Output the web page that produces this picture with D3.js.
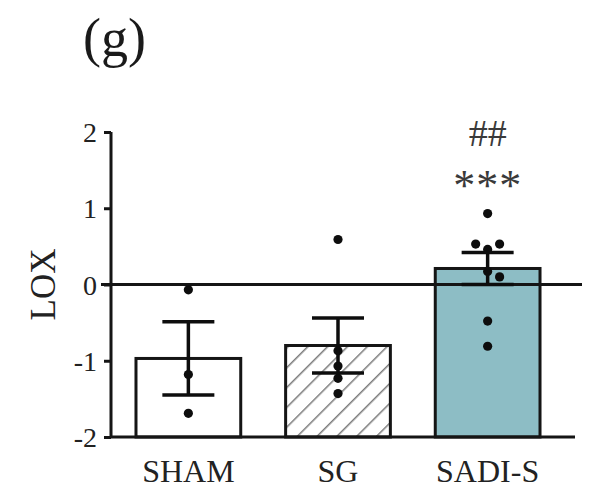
<!DOCTYPE html>
<html><head><meta charset="utf-8">
<script src="https://cdn.jsdelivr.net/npm/d3@7"></script>
<style>body{margin:0;background:#fff} text{font-family:"Liberation Serif","Times New Roman",Times,serif}</style>
</head><body>
<svg id="c" width="589" height="490"></svg>
<script>
const categories = ["SHAM", "SG", "SADI-S"];
const means = [-0.97, -0.80, 0.21];
const sems = [0.48, 0.36, 0.21];
const points = [
  [-0.07, -1.18, -1.69],
  [0.59, -0.87, -1.07, -1.23, -1.43],
  [0.93, 0.46, 0.53, 0.53, 0.17, 0.10, -0.48, -0.81]
];
const yTicks = [-2, -1, 0, 1, 2];
const annotations = [{cat: "SADI-S", lines: ["##", "***"]}];
const fills = ["#ffffff", "hatch", "#8dbdc5"];

const svg = d3.select("#c");
const x = d3.scaleBand().domain(categories).range([111, 565]).paddingInner(0.3).paddingOuter(0.167);
const y = d3.scaleLinear().domain([-2, 2]).range([437, 132]);
const ink = "#151515";
const txt = "#222";

const defs = svg.append("defs");
const pat = defs.append("pattern").attr("id", "hatch").attr("patternUnits", "userSpaceOnUse")
  .attr("width", 14).attr("height", 14).attr("patternTransform", "rotate(45)");
pat.append("rect").attr("width", 14).attr("height", 14).attr("fill", "#fff");
pat.append("line").attr("x1", 0).attr("y1", 0).attr("x2", 0).attr("y2", 14)
  .attr("stroke", "#7a7a7a").attr("stroke-width", 3);

// title
svg.append("text").attr("x", 83).attr("y", 56).attr("font-size", 54)
  .attr("fill", "#1a1a1a").text("(g)");

// bars
svg.selectAll("rect.bar").data(categories).join("rect").attr("class", "bar")
  .attr("x", d => x(d)).attr("width", x.bandwidth())
  .attr("y", (d, i) => y(means[i]))
  .attr("height", (d, i) => y(-2) - y(means[i]))
  .attr("fill", (d, i) => fills[i] === "hatch" ? "url(#hatch)" : fills[i])
  .attr("stroke", ink).attr("stroke-width", 3);

// axes
const yAxis = d3.axisLeft(y).tickValues(yTicks).tickSize(7).tickPadding(7).tickFormat(d => String(d));
const gy = svg.append("g").attr("transform", "translate(111,0)").call(yAxis);
gy.attr("font-family", null);
gy.select(".domain").attr("stroke", ink).attr("stroke-width", 3).attr("d", `M0,${y(2)}V${y(-2)}`);
gy.selectAll(".tick line").attr("stroke", ink).attr("stroke-width", 3);
gy.selectAll(".tick text").attr("font-size", 28).attr("fill", txt).attr("dy", "0.34em");

const xAxis = d3.axisBottom(x).tickSize(0).tickPadding(22);
const gx = svg.append("g").attr("transform", `translate(0,${y(-2)})`).call(xAxis);
gx.attr("font-family", null);
gx.select(".domain").attr("stroke", ink).attr("stroke-width", 3).attr("d", "M111,0H575");
gx.selectAll(".tick text").attr("font-size", 32).attr("fill", txt);

// zero line
svg.append("line").attr("x1", 101).attr("x2", 582).attr("y1", y(0)).attr("y2", y(0))
  .attr("stroke", ink).attr("stroke-width", 3);

// y label
svg.append("text").attr("transform", `translate(55,${y(0)}) rotate(-90)`).attr("text-anchor", "middle")
  .attr("font-size", 35).attr("fill", txt).text("LOX");

// dots with simple dodge
const r = 4.6;
categories.forEach((c, i) => {
  const cx = x(c) + x.bandwidth() / 2;
  const placed = [];
  points[i].forEach(v => {
    const py = y(v);
    let px = cx;
    const offs = [0, 1, -1, 2, -2, 3, -3];
    for (let k = 0; k < offs.length; k++) {
      px = cx + offs[k] * 2 * r * 1.3;
      if (!placed.some(p => Math.hypot(p[0] - px, p[1] - py) < 2 * r)) break;
    }
    placed.push([px, py]);
  });
  svg.append("g").selectAll("circle").data(placed).join("circle")
    .attr("cx", d => d[0]).attr("cy", d => d[1]).attr("r", r).attr("fill", "#0d0d0d");
});

// error bars
categories.forEach((c, i) => {
  const cx = x(c) + x.bandwidth() / 2;
  const g = svg.append("g").attr("stroke", "#0d0d0d").attr("stroke-width", 3.5);
  g.append("line").attr("x1", cx).attr("x2", cx).attr("y1", y(means[i] + sems[i])).attr("y2", y(means[i] - sems[i]));
  [means[i] + sems[i], means[i] - sems[i]].forEach(v => {
    g.append("line").attr("x1", cx - 26).attr("x2", cx + 26).attr("y1", y(v)).attr("y2", y(v));
  });
});

// annotations
annotations.forEach(a => {
  const cx = x(a.cat) + x.bandwidth() / 2;
  svg.append("text").attr("x", cx).attr("y", 146).attr("text-anchor", "middle")
    .attr("font-size", 38).attr("fill", "#3a3a3a").text(a.lines[0]);
  svg.append("text").attr("x", cx).attr("y", 200).attr("text-anchor", "middle")
    .attr("font-size", 44).attr("letter-spacing", 1).attr("fill", "#3a3a3a").text(a.lines[1]);
});
</script>
</body></html>
